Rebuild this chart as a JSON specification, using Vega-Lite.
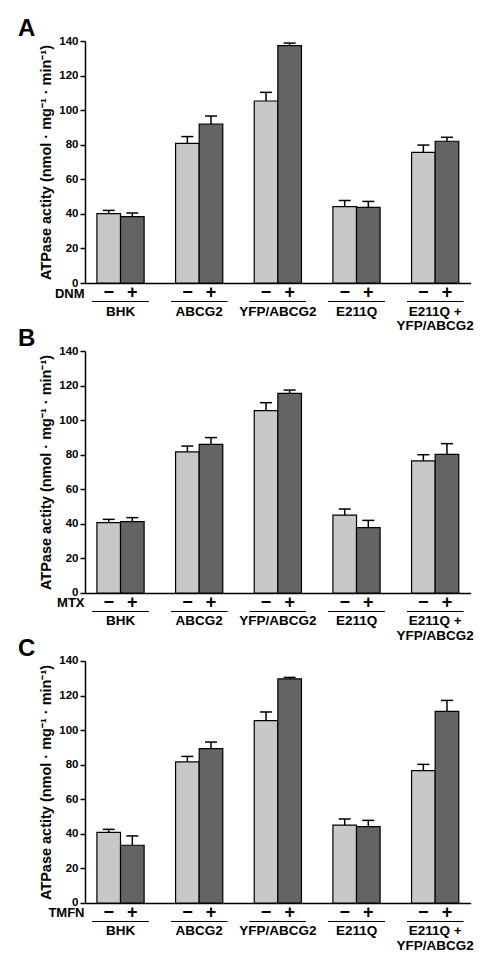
{
  "$schema": "https://vega.github.io/schema/vega-lite/v6.json",
  "bounds": "flush",
  "spacing": 68,
  "padding": {"left": 18, "top": 17, "right": 0, "bottom": 0},
  "config": {
    "font": "Liberation Sans",
    "view": {"stroke": null},
    "axis": {"labelFont": "Liberation Sans", "titleFont": "Liberation Sans", "labelFontWeight": "bold", "titleFontWeight": "bold", "labelColor": "black", "titleColor": "black", "domainColor": "black", "tickColor": "black", "grid": false, "labelOverlap": false},
    "axisY": {"labelOverlap": false, "labelBound": false},
    "title": {"anchor": "start", "frame": "group", "fontSize": 24, "fontWeight": "bold", "font": "Liberation Sans", "color": "black", "dx": -67, "offset": -6}
  },
  "datasets": {
    "bars": [
      {"panel": "A", "group": "BHK", "treatment": "−", "value": 40.1, "upper": 42.0},
      {"panel": "A", "group": "BHK", "treatment": "+", "value": 38.4, "upper": 40.5},
      {"panel": "A", "group": "ABCG2", "treatment": "−", "value": 80.8, "upper": 84.7},
      {"panel": "A", "group": "ABCG2", "treatment": "+", "value": 92.0, "upper": 96.6},
      {"panel": "A", "group": "YFP/ABCG2", "treatment": "−", "value": 105.3, "upper": 110.3},
      {"panel": "A", "group": "YFP/ABCG2", "treatment": "+", "value": 137.3, "upper": 138.8},
      {"panel": "A", "group": "E211Q", "treatment": "−", "value": 44.2, "upper": 47.8},
      {"panel": "A", "group": "E211Q", "treatment": "+", "value": 43.8, "upper": 47.2},
      {"panel": "A", "group": "E211Q +|YFP/ABCG2", "treatment": "−", "value": 75.6, "upper": 79.8},
      {"panel": "A", "group": "E211Q +|YFP/ABCG2", "treatment": "+", "value": 82.0, "upper": 84.3},
      {"panel": "B", "group": "BHK", "treatment": "−", "value": 40.7, "upper": 42.6},
      {"panel": "B", "group": "BHK", "treatment": "+", "value": 41.3, "upper": 43.6},
      {"panel": "B", "group": "ABCG2", "treatment": "−", "value": 81.6, "upper": 85.0},
      {"panel": "B", "group": "ABCG2", "treatment": "+", "value": 86.0, "upper": 89.9},
      {"panel": "B", "group": "YFP/ABCG2", "treatment": "−", "value": 105.5, "upper": 110.1},
      {"panel": "B", "group": "YFP/ABCG2", "treatment": "+", "value": 115.5, "upper": 117.4},
      {"panel": "B", "group": "E211Q", "treatment": "−", "value": 45.1, "upper": 48.6},
      {"panel": "B", "group": "E211Q", "treatment": "+", "value": 37.8, "upper": 42.0},
      {"panel": "B", "group": "E211Q +|YFP/ABCG2", "treatment": "−", "value": 76.4, "upper": 80.0},
      {"panel": "B", "group": "E211Q +|YFP/ABCG2", "treatment": "+", "value": 80.2, "upper": 86.4},
      {"panel": "C", "group": "BHK", "treatment": "−", "value": 40.9, "upper": 42.6},
      {"panel": "C", "group": "BHK", "treatment": "+", "value": 33.4, "upper": 38.8},
      {"panel": "C", "group": "ABCG2", "treatment": "−", "value": 81.6, "upper": 84.8},
      {"panel": "C", "group": "ABCG2", "treatment": "+", "value": 89.3, "upper": 93.1},
      {"panel": "C", "group": "YFP/ABCG2", "treatment": "−", "value": 105.5, "upper": 110.5},
      {"panel": "C", "group": "YFP/ABCG2", "treatment": "+", "value": 129.6, "upper": 130.5},
      {"panel": "C", "group": "E211Q", "treatment": "−", "value": 45.1, "upper": 48.6},
      {"panel": "C", "group": "E211Q", "treatment": "+", "value": 44.2, "upper": 47.8},
      {"panel": "C", "group": "E211Q +|YFP/ABCG2", "treatment": "−", "value": 76.6, "upper": 80.2},
      {"panel": "C", "group": "E211Q +|YFP/ABCG2", "treatment": "+", "value": 110.9, "upper": 117.2}
    ]
  },
  "vconcat": [
    {
      "width": 385.7, "height": 242,
      "title": {"text": "A"},
      "data": {"name": "bars"},
      "transform": [{"filter": "datum.panel === 'A'"}],
      "encoding": {
        "x": {"field": "group", "type": "nominal", "sort": ["BHK", "ABCG2", "YFP/ABCG2", "E211Q", "E211Q +|YFP/ABCG2"],
          "scale": {"paddingInner": 0.284, "paddingOuter": 0.0935},
          "axis": {"title": "DNM", "titleFontSize": 13, "titleX": -1, "titleY": 10, "titleAlign": "right", "titleBaseline": "middle", "titleAngle": 0, "ticks": false, "tickSize": 0, "labelFontSize": 13.5, "labelPadding": 21, "labelBaseline": "top", "labelLineHeight": 15, "labelAngle": 0, "domainWidth": 1.5, "labelExpr": "split(datum.label, '|')"}},
        "y": {"field": "value", "type": "quantitative", "scale": {"domain": [0, 140]},
          "axis": {"values": [0, 20, 40, 60, 80, 100, 120, 140], "labelOverlap": false, "labelFontSize": 11.5, "tickSize": 5, "tickWidth": 1.5, "domainWidth": 1.5, "labelPadding": 2, "title": "ATPase actity (nmol · mg⁻¹ · min⁻¹)", "titleFontSize": 14.5, "titlePadding": 5}}
      },
      "layer": [
        {"mark": {"type": "bar", "stroke": "black", "strokeWidth": 1.2},
          "encoding": {
            "xOffset": {"field": "treatment", "type": "nominal", "sort": ["−", "+"], "scale": {"paddingInner": 0, "paddingOuter": 0.193}},
            "color": {"field": "treatment", "type": "nominal", "scale": {"domain": ["−", "+"], "range": ["#c8c8c8", "#646464"]}, "legend": null}
          }},
        {"mark": {"type": "rule", "color": "black", "strokeWidth": 1.5},
          "encoding": {
            "xOffset": {"field": "treatment", "type": "nominal", "sort": ["−", "+"]},
            "y2": {"field": "upper"}
          }},
        {"mark": {"type": "tick", "orient": "horizontal", "color": "black", "size": 12, "thickness": 1.5, "opacity": 1},
          "encoding": {
            "xOffset": {"field": "treatment", "type": "nominal", "sort": ["−", "+"]},
            "y": {"field": "upper", "type": "quantitative"}
          }},
        {"mark": {"type": "text", "fontSize": 18, "fontWeight": "bold", "color": "black", "dy": 10, "baseline": "middle"},
          "encoding": {
            "xOffset": {"field": "treatment", "type": "nominal", "sort": ["−", "+"]},
            "y": {"datum": 0},
            "text": {"field": "treatment"}
          }},
        {"mark": {"type": "bar", "color": "black", "strokeWidth": 0},
          "encoding": {
            "y": {"datum": -11},
            "y2": {"datum": -10.4}
          }}
      ]
    },
    {
      "width": 385.7, "height": 242,
      "title": {"text": "B"},
      "data": {"name": "bars"},
      "transform": [{"filter": "datum.panel === 'B'"}],
      "encoding": {
        "x": {"field": "group", "type": "nominal", "sort": ["BHK", "ABCG2", "YFP/ABCG2", "E211Q", "E211Q +|YFP/ABCG2"],
          "scale": {"paddingInner": 0.284, "paddingOuter": 0.0935},
          "axis": {"title": "MTX", "titleFontSize": 13, "titleX": -1, "titleY": 10, "titleAlign": "right", "titleBaseline": "middle", "titleAngle": 0, "ticks": false, "tickSize": 0, "labelFontSize": 13.5, "labelPadding": 21, "labelBaseline": "top", "labelLineHeight": 15, "labelAngle": 0, "domainWidth": 1.5, "labelExpr": "split(datum.label, '|')"}},
        "y": {"field": "value", "type": "quantitative", "scale": {"domain": [0, 140]},
          "axis": {"values": [0, 20, 40, 60, 80, 100, 120, 140], "labelOverlap": false, "labelFontSize": 11.5, "tickSize": 5, "tickWidth": 1.5, "domainWidth": 1.5, "labelPadding": 2, "title": "ATPase actity (nmol · mg⁻¹ · min⁻¹)", "titleFontSize": 14.5, "titlePadding": 5}}
      },
      "layer": [
        {"mark": {"type": "bar", "stroke": "black", "strokeWidth": 1.2},
          "encoding": {
            "xOffset": {"field": "treatment", "type": "nominal", "sort": ["−", "+"], "scale": {"paddingInner": 0, "paddingOuter": 0.193}},
            "color": {"field": "treatment", "type": "nominal", "scale": {"domain": ["−", "+"], "range": ["#c8c8c8", "#646464"]}, "legend": null}
          }},
        {"mark": {"type": "rule", "color": "black", "strokeWidth": 1.5},
          "encoding": {
            "xOffset": {"field": "treatment", "type": "nominal", "sort": ["−", "+"]},
            "y2": {"field": "upper"}
          }},
        {"mark": {"type": "tick", "orient": "horizontal", "color": "black", "size": 12, "thickness": 1.5, "opacity": 1},
          "encoding": {
            "xOffset": {"field": "treatment", "type": "nominal", "sort": ["−", "+"]},
            "y": {"field": "upper", "type": "quantitative"}
          }},
        {"mark": {"type": "text", "fontSize": 18, "fontWeight": "bold", "color": "black", "dy": 10, "baseline": "middle"},
          "encoding": {
            "xOffset": {"field": "treatment", "type": "nominal", "sort": ["−", "+"]},
            "y": {"datum": 0},
            "text": {"field": "treatment"}
          }},
        {"mark": {"type": "bar", "color": "black", "strokeWidth": 0},
          "encoding": {
            "y": {"datum": -11},
            "y2": {"datum": -10.4}
          }}
      ]
    },
    {
      "width": 385.7, "height": 242,
      "title": {"text": "C"},
      "data": {"name": "bars"},
      "transform": [{"filter": "datum.panel === 'C'"}],
      "encoding": {
        "x": {"field": "group", "type": "nominal", "sort": ["BHK", "ABCG2", "YFP/ABCG2", "E211Q", "E211Q +|YFP/ABCG2"],
          "scale": {"paddingInner": 0.284, "paddingOuter": 0.0935},
          "axis": {"title": "TMFN", "titleFontSize": 13, "titleX": -1, "titleY": 10, "titleAlign": "right", "titleBaseline": "middle", "titleAngle": 0, "ticks": false, "tickSize": 0, "labelFontSize": 13.5, "labelPadding": 21, "labelBaseline": "top", "labelLineHeight": 15, "labelAngle": 0, "domainWidth": 1.5, "labelExpr": "split(datum.label, '|')"}},
        "y": {"field": "value", "type": "quantitative", "scale": {"domain": [0, 140]},
          "axis": {"values": [0, 20, 40, 60, 80, 100, 120, 140], "labelOverlap": false, "labelFontSize": 11.5, "tickSize": 5, "tickWidth": 1.5, "domainWidth": 1.5, "labelPadding": 2, "title": "ATPase actity (nmol · mg⁻¹ · min⁻¹)", "titleFontSize": 14.5, "titlePadding": 5}}
      },
      "layer": [
        {"mark": {"type": "bar", "stroke": "black", "strokeWidth": 1.2},
          "encoding": {
            "xOffset": {"field": "treatment", "type": "nominal", "sort": ["−", "+"], "scale": {"paddingInner": 0, "paddingOuter": 0.193}},
            "color": {"field": "treatment", "type": "nominal", "scale": {"domain": ["−", "+"], "range": ["#c8c8c8", "#646464"]}, "legend": null}
          }},
        {"mark": {"type": "rule", "color": "black", "strokeWidth": 1.5},
          "encoding": {
            "xOffset": {"field": "treatment", "type": "nominal", "sort": ["−", "+"]},
            "y2": {"field": "upper"}
          }},
        {"mark": {"type": "tick", "orient": "horizontal", "color": "black", "size": 12, "thickness": 1.5, "opacity": 1},
          "encoding": {
            "xOffset": {"field": "treatment", "type": "nominal", "sort": ["−", "+"]},
            "y": {"field": "upper", "type": "quantitative"}
          }},
        {"mark": {"type": "text", "fontSize": 18, "fontWeight": "bold", "color": "black", "dy": 10, "baseline": "middle"},
          "encoding": {
            "xOffset": {"field": "treatment", "type": "nominal", "sort": ["−", "+"]},
            "y": {"datum": 0},
            "text": {"field": "treatment"}
          }},
        {"mark": {"type": "bar", "color": "black", "strokeWidth": 0},
          "encoding": {
            "y": {"datum": -11},
            "y2": {"datum": -10.4}
          }}
      ]
    }
  ]
}
